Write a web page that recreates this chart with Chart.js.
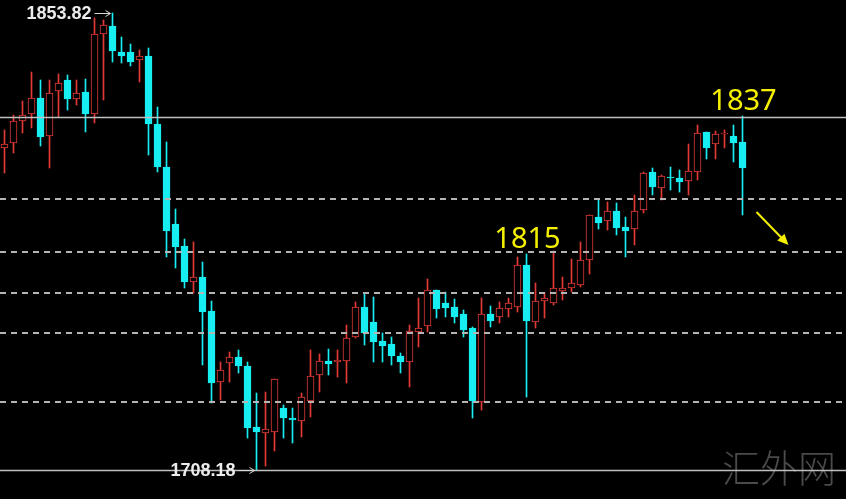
<!DOCTYPE html>
<html>
<head>
<meta charset="utf-8">
<script src="https://cdn.jsdelivr.net/npm/chart.js@4.4.1/dist/chart.umd.min.js"></script>
<style>
    html, body { margin: 0; padding: 0; background: #000; }
    #wrap { width: 846px; height: 499px; position: relative; }
</style>
</head>
<body>
<div id="wrap"><canvas id="grafico" width="846" height="499"></canvas></div>
<script>
// candle data
const bars = Array.from({ length: 83 }, (_, i) => String(i + 1));
const opens = [
    1810.79, 1812.39, 1819.40, 1821.63, 1826.73, 1814.62, 1828.96, 1832.46, 1826.41, 1828.64,
    1821.63, 1847.12, 1849.67, 1841.39, 1841.39, 1838.84, 1840.11, 1818.44, 1804.74, 1786.57,
    1779.56, 1768.09, 1769.68, 1758.85, 1736.22, 1742.28, 1744.19, 1741.32, 1721.88, 1719.97,
    1720.29, 1727.93, 1724.75, 1723.79, 1730.17, 1738.45, 1742.91, 1742.59, 1742.91, 1750.56,
    1760.12, 1755.34, 1749.29, 1748.33, 1744.51, 1742.59, 1752.15, 1754.07, 1765.54, 1761.40,
    1760.12, 1757.89, 1753.43, 1729.85, 1757.89, 1756.94, 1759.48, 1760.12, 1773.51, 1755.34,
    1762.03, 1761.40, 1765.22, 1766.18, 1767.13, 1775.10, 1788.80, 1787.53, 1790.72, 1785.62,
    1784.98, 1791.04, 1803.15, 1798.05, 1801.55, 1801.23, 1800.28, 1803.15, 1815.89, 1812.07,
    1815.26, 1814.62, 1812.71
];
const highs = [
    1816.53, 1821.31, 1825.77, 1835.01, 1832.46, 1832.46, 1834.38, 1834.06, 1832.46, 1832.78,
    1852.22, 1851.59, 1853.82, 1846.17, 1843.94, 1842.03, 1842.66, 1823.86, 1812.71, 1791.35,
    1781.79, 1780.84, 1774.46, 1762.03, 1742.59, 1745.78, 1746.42, 1742.59, 1732.71, 1733.03,
    1737.18, 1728.89, 1727.93, 1732.71, 1746.42, 1745.14, 1746.74, 1746.42, 1754.39, 1761.72,
    1764.58, 1763.31, 1751.84, 1750.56, 1745.46, 1754.39, 1762.99, 1769.05, 1765.54, 1764.90,
    1762.67, 1759.17, 1753.75, 1762.99, 1760.44, 1761.72, 1762.99, 1776.06, 1777.01, 1767.77,
    1764.58, 1777.97, 1769.68, 1775.42, 1780.84, 1789.44, 1794.22, 1793.58, 1793.27, 1788.80,
    1795.82, 1803.15, 1804.42, 1802.19, 1804.74, 1803.78, 1812.07, 1818.12, 1815.89, 1816.21,
    1816.53, 1818.12, 1820.99
];
const lows = [
    1802.83, 1809.20, 1815.57, 1817.17, 1811.43, 1804.42, 1820.67, 1822.90, 1824.50, 1815.89,
    1818.76, 1826.09, 1838.20, 1837.88, 1836.93, 1831.83, 1808.56, 1803.15, 1776.06, 1772.55,
    1766.18, 1764.58, 1741.64, 1729.53, 1730.48, 1736.22, 1739.09, 1718.37, 1708.18, 1709.45,
    1714.23, 1718.37, 1716.78, 1718.69, 1725.07, 1733.03, 1738.45, 1737.81, 1735.90, 1750.24,
    1748.01, 1742.59, 1742.59, 1741.64, 1739.09, 1734.63, 1747.37, 1752.15, 1756.62, 1756.94,
    1755.02, 1750.56, 1724.75, 1727.30, 1753.75, 1755.02, 1756.94, 1758.53, 1731.44, 1753.43,
    1756.62, 1760.76, 1762.35, 1764.90, 1766.50, 1770.64, 1784.98, 1784.66, 1783.07, 1776.06,
    1779.88, 1790.08, 1795.82, 1794.22, 1797.41, 1796.77, 1795.82, 1800.60, 1807.29, 1807.29,
    1810.79, 1806.33, 1789.44
];
const closes = [
    1812.07, 1819.40, 1821.31, 1826.73, 1814.30, 1828.32, 1831.51, 1826.41, 1828.32, 1821.63,
    1847.12, 1849.99, 1841.71, 1840.11, 1838.20, 1840.11, 1818.44, 1804.74, 1784.34, 1779.24,
    1768.09, 1769.68, 1758.53, 1735.90, 1740.04, 1744.19, 1741.32, 1721.56, 1720.29, 1721.24,
    1737.18, 1724.75, 1724.11, 1731.44, 1738.13, 1742.91, 1741.96, 1743.23, 1750.24, 1760.12,
    1751.84, 1748.97, 1747.69, 1744.51, 1742.59, 1752.47, 1753.43, 1765.54, 1759.48, 1759.80,
    1756.94, 1752.79, 1730.17, 1757.89, 1755.66, 1759.80, 1761.40, 1773.51, 1755.66, 1762.03,
    1762.99, 1766.18, 1766.18, 1767.77, 1775.10, 1789.44, 1786.89, 1790.72, 1785.30, 1784.34,
    1790.72, 1802.83, 1798.36, 1801.87, 1801.23, 1799.96, 1803.46, 1815.57, 1810.79, 1815.26,
    1815.57, 1812.39, 1804.42
];

// horizontal lines
const solidLevels = [1820.67, 1708.18];
const dashedLevels = [1794.54, 1777.65, 1764.58, 1751.84, 1730.00];

// yellow callouts over candles
const calloutTexts = ['1815', '1837'];
const calloutBars = [58, 82];

const watermark = '汇外网';

const UP = '#e33a36';
const DOWN = '#17eef2';
const isUp = i => closes[i] >= opens[i];

const overlay = {
    id: 'overlay',
    beforeDatasetsDraw(chart) {
        const c = chart.ctx;
        c.save();
        c.fillStyle = '#4a4a4a';
        c.font = '300 38px "Noto Sans CJK SC"';
        c.textAlign = 'right';
        c.textBaseline = 'middle';
        c.fillText(watermark, 836, 468);
        c.restore();
    },
    afterDatasetsDraw(chart) {
        const c = chart.ctx;
        const xs = chart.scales.x;
        const ys = chart.scales.y;
        const w = chart.width;
        c.save();

        // levels
        c.lineWidth = 1.6;
        c.strokeStyle = '#c0c0c0';
        solidLevels.forEach(v => {
            const y = Math.round(ys.getPixelForValue(v)) + 0.5;
            c.beginPath(); c.moveTo(0, y); c.lineTo(w, y); c.stroke();
        });
        c.strokeStyle = '#b4b4b4';
        c.lineWidth = 2;
        c.setLineDash([6, 5]);
        dashedLevels.forEach(v => {
            const y = Math.round(ys.getPixelForValue(v));
            c.beginPath(); c.moveTo(0, y); c.lineTo(w, y); c.stroke();
        });
        c.setLineDash([]);

        // max / min price labels with arrows
        const iMax = highs.indexOf(Math.max(...highs));
        const iMin = lows.indexOf(Math.min(...lows));
        const marks = [[iMax, highs[iMax]], [iMin, lows[iMin]]];
        c.font = 'bold 18px "Liberation Sans"';
        c.textAlign = 'right';
        c.textBaseline = 'middle';
        c.lineWidth = 1;
        marks.forEach(([i, v]) => {
            const x = xs.getPixelForValue(i);
            const y = Math.round(ys.getPixelForValue(v)) + 0.5;
            c.strokeStyle = '#d8d8d8';
            c.beginPath();
            c.moveTo(x - 18, y); c.lineTo(x - 2, y);
            c.moveTo(x - 7, y - 3); c.lineTo(x - 2, y); c.lineTo(x - 7, y + 3);
            c.stroke();
            c.fillStyle = '#ececec';
            c.fillText(v.toFixed(2), x - 21, y + 1);
        });

        // yellow callouts
        c.fillStyle = '#f5f000';
        c.font = '29px "Noto Sans"';
        c.textAlign = 'center';
        c.textBaseline = 'alphabetic';
        calloutBars.forEach((i, k) => {
            const x = xs.getPixelForValue(i);
            const y = ys.getPixelForValue(highs[i]);
            c.fillText(calloutTexts[k], x + 1, y - 6);
        });

        // yellow arrow after the last candle
        const last = bars.length - 1;
        const ax = xs.getPixelForValue(last);
        const ay = ys.getPixelForValue(lows[last]);
        const x1 = ax + 14, y1 = ay - 3, x2 = ax + 46, y2 = ay + 30;
        const ang = Math.atan2(y2 - y1, x2 - x1);
        c.strokeStyle = '#f5f000';
        c.lineWidth = 2;
        c.beginPath(); c.moveTo(x1, y1); c.lineTo(x2 - 8 * Math.cos(ang), y2 - 8 * Math.sin(ang)); c.stroke();
        c.beginPath();
        c.moveTo(x2, y2);
        c.lineTo(x2 - 11 * Math.cos(ang) + 5 * Math.sin(ang), y2 - 11 * Math.sin(ang) - 5 * Math.cos(ang));
        c.lineTo(x2 - 11 * Math.cos(ang) - 5 * Math.sin(ang), y2 - 11 * Math.sin(ang) + 5 * Math.cos(ang));
        c.closePath();
        c.fill();

        c.restore();
    }
};

document.addEventListener('DOMContentLoaded', function() {
    const ctx = document.getElementById('grafico').getContext('2d');
    new Chart(ctx, {
        type: 'bar',
        data: {
            labels: bars,
            datasets: [
                {
                    label: 'body',
                    data: opens.map((o, i) => [o, closes[i]]),
                    backgroundColor: c => isUp(c.dataIndex) ? '#000000' : DOWN,
                    borderColor: c => isUp(c.dataIndex) ? UP : DOWN,
                    borderWidth: 1,
                    borderSkipped: false,
                    barThickness: 7,
                    minBarLength: 1,
                    grouped: false,
                    order: 0
                },
                {
                    label: 'wick',
                    data: lows.map((l, i) => [l, highs[i]]),
                    backgroundColor: c => isUp(c.dataIndex) ? UP : DOWN,
                    borderWidth: 0,
                    barThickness: 1,
                    grouped: false,
                    order: 1
                }
            ]
        },
        options: {
            responsive: false,
            devicePixelRatio: 1,
            animation: false,
            layout: { padding: { left: 0, right: 99, top: 0, bottom: 0 } },
            plugins: {
                legend: { display: false },
                tooltip: { enabled: false }
            },
            scales: {
                x: { display: false, offset: true },
                y: { display: false, min: 1698.94, max: 1857.96 }
            }
        },
        plugins: [overlay]
    });
});
</script>
</body>
</html>
